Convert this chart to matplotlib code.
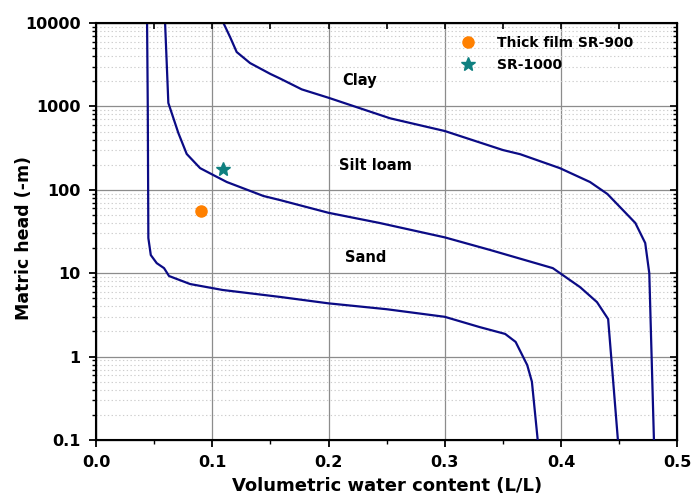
import matplotlib.pyplot as plt
import numpy as np
from matplotlib.ticker import LogLocator, NullFormatter

plt.rcParams['font.family'] = ['DejaVu Sans']
plt.rcParams['font.weight'] = 'bold'

# water retention curves (theta [L/L], matric head [-m])
sand_x = [0.0439, 0.0445, 0.045, 0.0471, 0.0522, 0.0585, 0.0628, 0.081, 0.109, 0.158,
          0.2, 0.25, 0.3, 0.33, 0.352, 0.361, 0.371, 0.375, 0.38]
sand_y = [10000, 1000, 26.4, 16.5, 13.2, 11.5, 9.25, 7.41, 6.29, 5.2,
          4.35, 3.7, 3.0, 2.26, 1.87, 1.5, 0.79, 0.5, 0.1]

silt_x = [0.0594, 0.0622, 0.0708, 0.078, 0.0895, 0.101, 0.1125, 0.144, 0.158, 0.2,
          0.244, 0.3, 0.339, 0.393, 0.4165, 0.431, 0.4406, 0.449]
silt_y = [10000, 1100, 480, 269, 182, 150, 124, 84.3, 75.5, 53,
          40, 26.9, 19, 11.5, 6.8, 4.5, 2.82, 0.1]

clay_x = [0.1096, 0.1153, 0.121, 0.1325, 0.15, 0.158, 0.177, 0.2, 0.253, 0.3,
          0.35, 0.365, 0.399, 0.425, 0.44, 0.464, 0.4725, 0.476, 0.48]
clay_y = [10000, 6800, 4490, 3310, 2450, 2170, 1600, 1270, 720, 507,
          300, 267, 182, 124, 89, 40, 23, 10, 0.1]

sr900 = (0.090, 56)
sr1000 = (0.1096, 176)

xticks = [0.0, 0.1, 0.2, 0.3, 0.4, 0.5]
xminor = [0.05, 0.15, 0.25, 0.35, 0.45]
yticks = [0.1, 1, 10, 100, 1000, 10000]
ylabels = ['0.1', '1', '10', '100', '1000', '10000']

navy = '#0b0b85'

fig = plt.figure(figsize=(6.91, 4.97), dpi=100)
ax = fig.add_axes([0.139, 0.1147, 0.841, 0.839])

for xs, ys in [(sand_x, sand_y), (silt_x, silt_y), (clay_x, clay_y)]:
    ax.plot(xs, ys, color=navy, lw=1.6, zorder=3)

ax.plot(*sr900, 'o', color='#ff8000', ms=8, ls='none', label='Thick film SR-900', zorder=4)
ax.plot(*sr1000, '*', color='#0f8080', ms=10, ls='none', label='SR-1000', zorder=4)

ax.text(0.227, 2020, 'Clay', ha='center', va='center', fontsize=10.5, fontweight='bold')
ax.text(0.240, 193, 'Silt loam', ha='center', va='center', fontsize=10.5, fontweight='bold')
ax.text(0.232, 15.6, 'Sand', ha='center', va='center', fontsize=10.5, fontweight='bold')

ax.set_yscale('log')
ax.set_xlim(0, 0.5)
ax.set_ylim(0.1, 10000)
ax.set_xticks(xticks)
ax.set_xticklabels(['%.1f' % v for v in xticks])
ax.set_xticks(xminor, minor=True)
ax.set_yticks(yticks)
ax.set_yticklabels(ylabels)
ax.yaxis.set_minor_locator(LogLocator(base=10, subs=np.arange(2, 10), numticks=20))
ax.yaxis.set_minor_formatter(NullFormatter())

ax.grid(True, which='major', axis='both', color='#8c8c8c', lw=0.9)
ax.grid(True, which='minor', axis='y', color='#cdcdcd', lw=0.8, ls=(0, (1.2, 2.2)))
ax.set_axisbelow(True)

ax.tick_params(which='major', direction='out', length=5, width=1.3, labelsize=11.5, pad=6)
ax.tick_params(which='minor', direction='out', length=3, width=1.0)
ax.tick_params(top=False, right=False)
for s in ax.spines.values():
    s.set_linewidth(1.5)

# mirrored inward ticks on top and right
axt = ax.twiny()
axt.set_xlim(ax.get_xlim())
axt.set_xticks(xticks)
axt.set_xticks(xminor, minor=True)
axt.tick_params(which='both', direction='in', labeltop=False, length=4, width=1.2)
axr = ax.twinx()
axr.set_yscale('log')
axr.set_ylim(ax.get_ylim())
axr.set_yticks(yticks)
axr.yaxis.set_minor_locator(LogLocator(base=10, subs=np.arange(2, 10), numticks=20))
axr.tick_params(which='major', direction='in', labelright=False, length=5, width=1.2)
axr.tick_params(which='minor', direction='in', labelright=False, length=3, width=1.0)

ax.set_xlabel('Volumetric water content (L/L)', fontsize=13, fontweight='bold', labelpad=5)
ax.set_ylabel('Matric head (-m)', fontsize=12.5, fontweight='bold')
ax.yaxis.set_label_coords(-0.108, 0.485)

ax.legend(loc='upper right', bbox_to_anchor=(0.946, 1.0), frameon=False,
          prop={'size': 10, 'weight': 'bold'}, handletextpad=1.1, labelspacing=0.6)

fig.savefig('out.png', dpi=100)
